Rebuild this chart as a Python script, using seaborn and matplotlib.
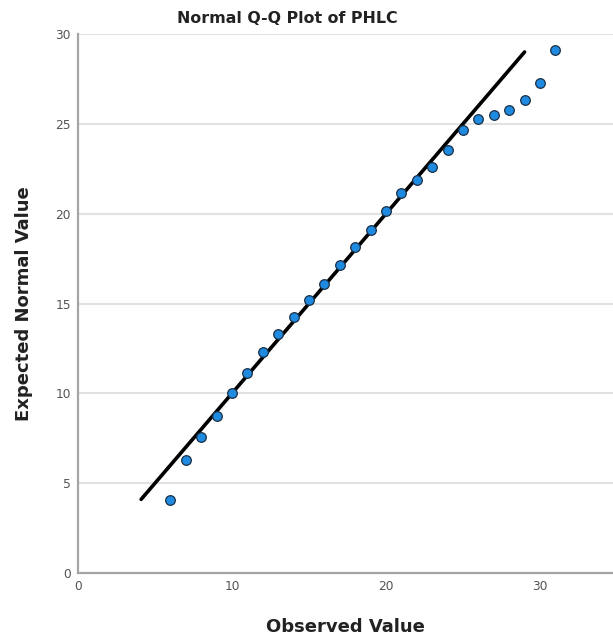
import numpy as np
import pandas as pd
import matplotlib
matplotlib.use("Agg")
import matplotlib.pyplot as plt
import seaborn as sns

# Observed scores and their expected normal values
observed = [6, 7, 8, 9, 10, 11, 12, 13, 14, 15, 16, 17, 18, 19, 20,
            21, 22, 23, 24, 25, 26, 27, 28, 29, 30, 31]
expected = [4.05, 6.27, 7.58, 8.76, 10.04, 11.15, 12.3, 13.33, 14.24, 15.18,
            16.08, 17.15, 18.17, 19.08, 20.13, 21.15, 21.88, 22.6, 23.56, 24.65,
            25.25, 25.5, 25.76, 26.3, 27.3, 29.1]

# Reference line (expected == observed)
ref_line = [4.1, 29.0]

x_ticks = [0, 10, 20, 30]
y_ticks = [0, 5, 10, 15, 20, 25, 30]

sns.set_theme(style="white")
plt.rcParams["font.family"] = ["DejaVu Sans"]

fig = plt.figure(figsize=(6.13, 6.44), dpi=100)
ax = fig.add_axes([0.1272, 0.1102, 0.8728, 0.8370])

points = pd.DataFrame({"Observed": observed, "Expected": expected})
line = pd.DataFrame({"x": ref_line, "y": ref_line})

sns.lineplot(data=line, x="x", y="y", ax=ax, color="black", linewidth=2.6,
             zorder=3)
sns.scatterplot(data=points, x="Observed", y="Expected", ax=ax,
                color="#1e8ae0", edgecolor="#1b2f45", linewidth=0.9, s=48,
                zorder=4)

ax.set_xlim(0, 34.74)
ax.set_ylim(0, 30)
ax.set_xticks(x_ticks)
ax.set_yticks(y_ticks)
ax.tick_params(axis="both", length=0, labelsize=8.8, labelcolor="#555555",
               pad=5)

ax.yaxis.grid(True, color="#e2e2e2", linewidth=1.5)
ax.xaxis.grid(False)
ax.set_axisbelow(True)

for side in ("top", "right"):
    ax.spines[side].set_visible(False)
for side in ("left", "bottom"):
    ax.spines[side].set_color("#a5a5a5")
    ax.spines[side].set_linewidth(1.6)

ax.set_xlabel("Observed Value", fontsize=13, fontweight="bold",
              color="#222222", labelpad=18)
ax.set_ylabel("Expected Normal Value", fontsize=13, fontweight="bold",
              color="#222222", labelpad=16)
fig.text(0.468, 0.972, "Normal Q-Q Plot of PHLC", ha="center", va="center",
         fontsize=11.4, fontweight="bold", color="#222222")

fig.savefig("out.png", dpi=100)
